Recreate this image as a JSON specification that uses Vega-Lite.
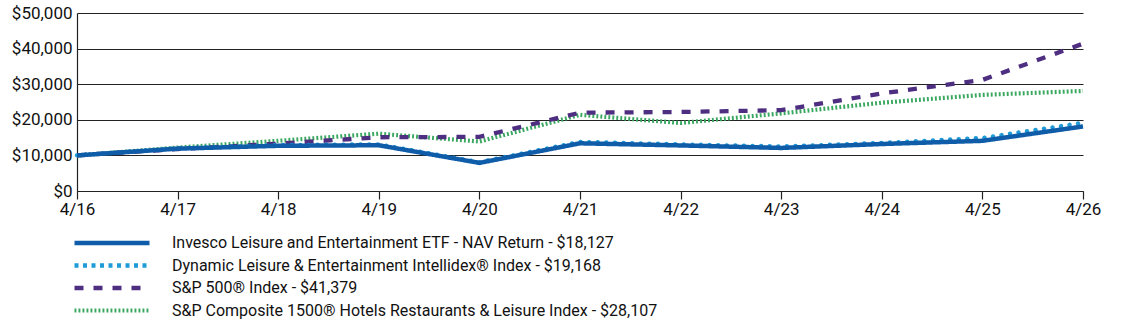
{
  "$schema": "https://vega.github.io/schema/vega-lite/v6.json",
  "width": 1006,
  "height": 178,
  "autosize": {"type": "none"},
  "padding": {"left": 77, "top": 13, "right": 40, "bottom": 136},
  "background": "white",
  "config": {
    "font": "Roboto",
    "view": {"stroke": null},
    "axis": {"labelFont": "Roboto", "labelFontSize": 17, "labelColor": "#111"},
    "legend": {"padding": 0}
  },
  "data": {
    "values": [
      {"d": "4/16", "s": "A", "v": 10000}, {"d": "4/17", "s": "A", "v": 11900}, {"d": "4/18", "s": "A", "v": 12700}, {"d": "4/19", "s": "A", "v": 12850}, {"d": "4/20", "s": "A", "v": 7900}, {"d": "4/21", "s": "A", "v": 13400}, {"d": "4/22", "s": "A", "v": 12800}, {"d": "4/23", "s": "A", "v": 12100}, {"d": "4/24", "s": "A", "v": 13200}, {"d": "4/25", "s": "A", "v": 14100}, {"d": "4/26", "s": "A", "v": 18127},
      {"d": "4/16", "s": "B", "v": 10000}, {"d": "4/17", "s": "B", "v": 12000}, {"d": "4/18", "s": "B", "v": 12900}, {"d": "4/19", "s": "B", "v": 13100}, {"d": "4/20", "s": "B", "v": 8100}, {"d": "4/21", "s": "B", "v": 13800}, {"d": "4/22", "s": "B", "v": 13100}, {"d": "4/23", "s": "B", "v": 12500}, {"d": "4/24", "s": "B", "v": 13500}, {"d": "4/25", "s": "B", "v": 14900}, {"d": "4/26", "s": "B", "v": 19168},
      {"d": "4/16", "s": "C", "v": 10000}, {"d": "4/17", "s": "C", "v": 11800}, {"d": "4/18", "s": "C", "v": 13300}, {"d": "4/19", "s": "C", "v": 15100}, {"d": "4/20", "s": "C", "v": 15200}, {"d": "4/21", "s": "C", "v": 22000}, {"d": "4/22", "s": "C", "v": 22200}, {"d": "4/23", "s": "C", "v": 22700}, {"d": "4/24", "s": "C", "v": 27400}, {"d": "4/25", "s": "C", "v": 31200}, {"d": "4/26", "s": "C", "v": 41379},
      {"d": "4/16", "s": "D", "v": 10000}, {"d": "4/17", "s": "D", "v": 12200}, {"d": "4/18", "s": "D", "v": 14100}, {"d": "4/19", "s": "D", "v": 16100}, {"d": "4/20", "s": "D", "v": 13900}, {"d": "4/21", "s": "D", "v": 21400}, {"d": "4/22", "s": "D", "v": 19100}, {"d": "4/23", "s": "D", "v": 21800}, {"d": "4/24", "s": "D", "v": 24800}, {"d": "4/25", "s": "D", "v": 27000}, {"d": "4/26", "s": "D", "v": 28107}
    ]
  },
  "transform": [
    {"lookup": "s", "from": {"data": {"values": [
      {"s": "A", "name": "Invesco Leisure and Entertainment ETF - NAV Return - $18,127"},
      {"s": "B", "name": "Dynamic Leisure & Entertainment Intellidex® Index - $19,168"},
      {"s": "C", "name": "S&P 500® Index - $41,379"},
      {"s": "D", "name": "S&P Composite 1500® Hotels Restaurants & Leisure Index - $28,107"}
    ]}, "key": "s", "fields": ["name"]}}
  ],
  "encoding": {
    "x": {"field": "d", "type": "ordinal", "sort": null, "scale": {"type": "point", "padding": 0},
      "axis": {"title": null, "labelAngle": 0, "domainColor": "#222", "domainWidth": 1.2, "tickColor": "#222", "tickSize": 8, "tickWidth": 1.2, "labelPadding": 2, "grid": false}},
    "y": {"field": "v", "type": "quantitative", "scale": {"domain": [0, 50000], "nice": false},
      "axis": {"title": null, "values": [0, 10000, 20000, 30000, 40000, 50000], "format": "$,.0f", "ticks": false, "labelPadding": 5, "grid": true, "gridColor": "#222", "gridWidth": 1.2, "gridOpacity": 1, "domainColor": "#222", "domainWidth": 1.2}},
    "color": {"field": "name", "type": "nominal",
      "scale": {"domain": [
        "Invesco Leisure and Entertainment ETF - NAV Return - $18,127",
        "Dynamic Leisure & Entertainment Intellidex® Index - $19,168",
        "S&P 500® Index - $41,379",
        "S&P Composite 1500® Hotels Restaurants & Leisure Index - $28,107"],
        "range": ["#0f5ca8", "#1f9bd7", "#4e2e80", "#3aa760"]},
      "legend": {"title": null, "orient": "none", "legendX": 27, "legendY": 222, "symbolType": "M-7.5,0H7.5", "symbolSize": 100, "labelFont": "Roboto", "labelFontSize": 16, "labelColor": "#111", "labelOffset": 52, "rowPadding": 4.5, "labelLimit": 800}},
    "strokeWidth": {"field": "name", "type": "nominal",
      "scale": {"domain": [
        "Invesco Leisure and Entertainment ETF - NAV Return - $18,127",
        "Dynamic Leisure & Entertainment Intellidex® Index - $19,168",
        "S&P 500® Index - $41,379",
        "S&P Composite 1500® Hotels Restaurants & Leisure Index - $28,107"],
        "range": [4.5, 4.2, 2.8, 7]}}
  },
  "layer": [
    {"transform": [{"filter": "datum.s === 'D'"}], "mark": {"type": "line", "strokeCap": "butt"},
      "encoding": {"strokeDash": {"field": "name", "type": "nominal",
        "scale": {"domain": [
          "Invesco Leisure and Entertainment ETF - NAV Return - $18,127",
          "Dynamic Leisure & Entertainment Intellidex® Index - $19,168",
          "S&P 500® Index - $41,379",
          "S&P Composite 1500® Hotels Restaurants & Leisure Index - $28,107"],
          "range": [[1, 0], [4, 4.5], [9, 10], [1.9, 2.1]]}}}},
    {"transform": [{"filter": "datum.s === 'C'"}], "mark": {"type": "line", "strokeCap": "butt"},
      "encoding": {"strokeDash": {"field": "name", "type": "nominal"}}},
    {"transform": [{"filter": "datum.s === 'B'"}], "mark": {"type": "line", "strokeCap": "round", "strokeDash": [0.1, 8.5]}},
    {"transform": [{"filter": "datum.s === 'A'"}], "mark": {"type": "line", "strokeCap": "butt"},
      "encoding": {"strokeDash": {"field": "name", "type": "nominal"}}}
  ]
}
